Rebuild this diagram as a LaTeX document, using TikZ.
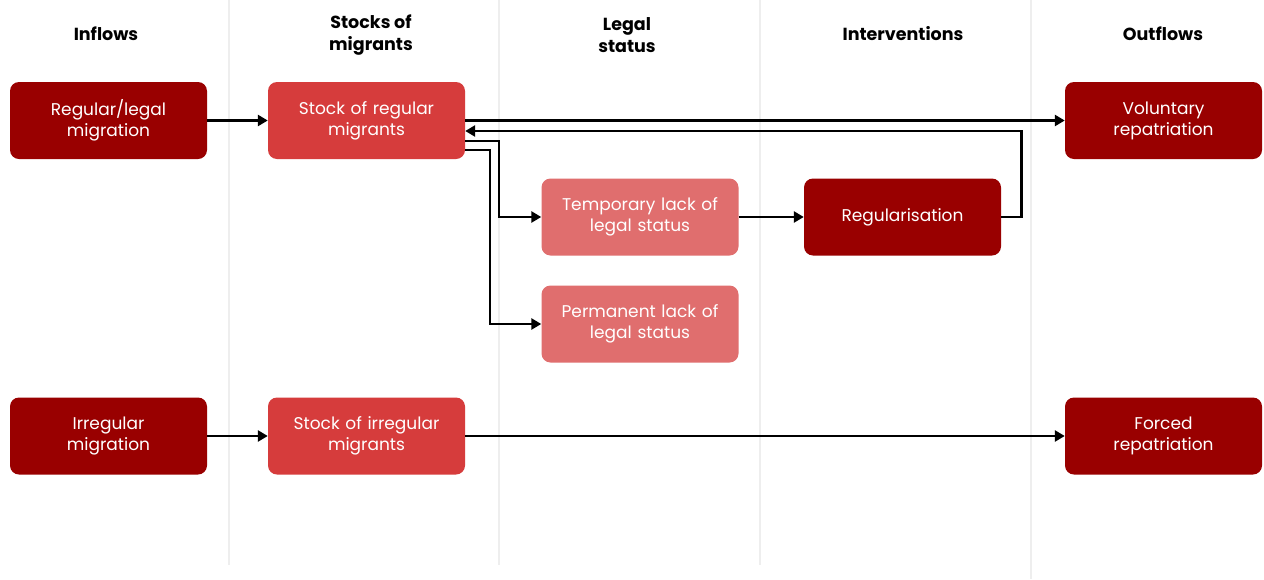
\documentclass[tikz,border=0pt]{standalone}
\usepackage{fontspec}
\setmainfont{Poppins}
\usetikzlibrary{arrows.meta,calc}
\definecolor{darkred}{HTML}{990000}
\definecolor{midred}{HTML}{D63C3C}
\definecolor{lightred}{HTML}{E06E6E}
\definecolor{sepgray}{HTML}{EEEEEE}
\tikzset{
  box/.style={rounded corners=9pt, minimum width=197pt, minimum height=77pt, text width=195pt, align=center, text=white, font=\fontsize{17}{21}\selectfont, inner sep=0pt},
  dbox/.style={box, fill=darkred},
  mbox/.style={box, fill=midred},
  lbox/.style={box, fill=lightred},
  head/.style={font=\bfseries\fontsize{17.5}{22}\selectfont, align=center},
  sep/.style={draw=sepgray, line width=2pt},
  conn/.style={draw=black, line width=2.6pt, -{Triangle[length=10pt,width=11pt]}},
}
\begin{document}
\begin{tikzpicture}[x=1pt,y=-1pt]
\useasboundingbox[fill=white] (0,0) rectangle (1264,579);
% separators
\draw[sep] (229,0) -- (229,565);
\draw[sep] (499,0) -- (499,565);
\draw[sep] (760,0) -- (760,565);
\draw[sep] (1031,0) -- (1031,579);
% headers
\node[head] (h1) at (106,34) {Inflows};
\node[head] (h2) at (371,35) {Stocks of\\migrants};
\node[head] (h3) at (627,35) {Legal\\status};
\node[head] (h4) at (903,34) {Interventions};
\node[head] (h5) at (1163,34) {Outflows};
% boxes
\node[dbox] (rl) at (108.5,120.5) {Regular/legal\\migration};
\node[mbox] (sr) at (366.5,120.5) {Stock of regular\\migrants};
\node[dbox] (vr) at (1163.5,120.5) {Voluntary\\repatriation};
\node[lbox] (tl) at (640,217) {Temporary lack of\\legal status};
\node[dbox] (rg) at (902.5,217) {Regularisation};
\node[lbox] (pl) at (640,324) {Permanent lack of\\legal status};
\node[dbox] (im) at (108.5,436) {Irregular\\migration};
\node[mbox] (si) at (366.5,436) {Stock of irregular\\migrants};
\node[dbox] (fr) at (1163.5,436) {Forced\\repatriation};
% connectors
\draw[conn] (rl.east) -- (sr.west);
\draw[conn] (sr.east) -- (vr.west);
\draw[conn] (rg.east) -- ++(20,0) |- ([yshift=-10.5pt]sr.east);
\draw[conn] ([yshift=-20.5pt]sr.east) -- (499,141) |- (tl.west);
\draw[conn] ([yshift=-29.5pt]sr.east) -- (490,150) |- (pl.west);
\draw[conn] (tl.east) -- (rg.west);
\draw[conn] (im.east) -- (si.west);
\draw[conn] (si.east) -- (fr.west);
\end{tikzpicture}
\end{document}
